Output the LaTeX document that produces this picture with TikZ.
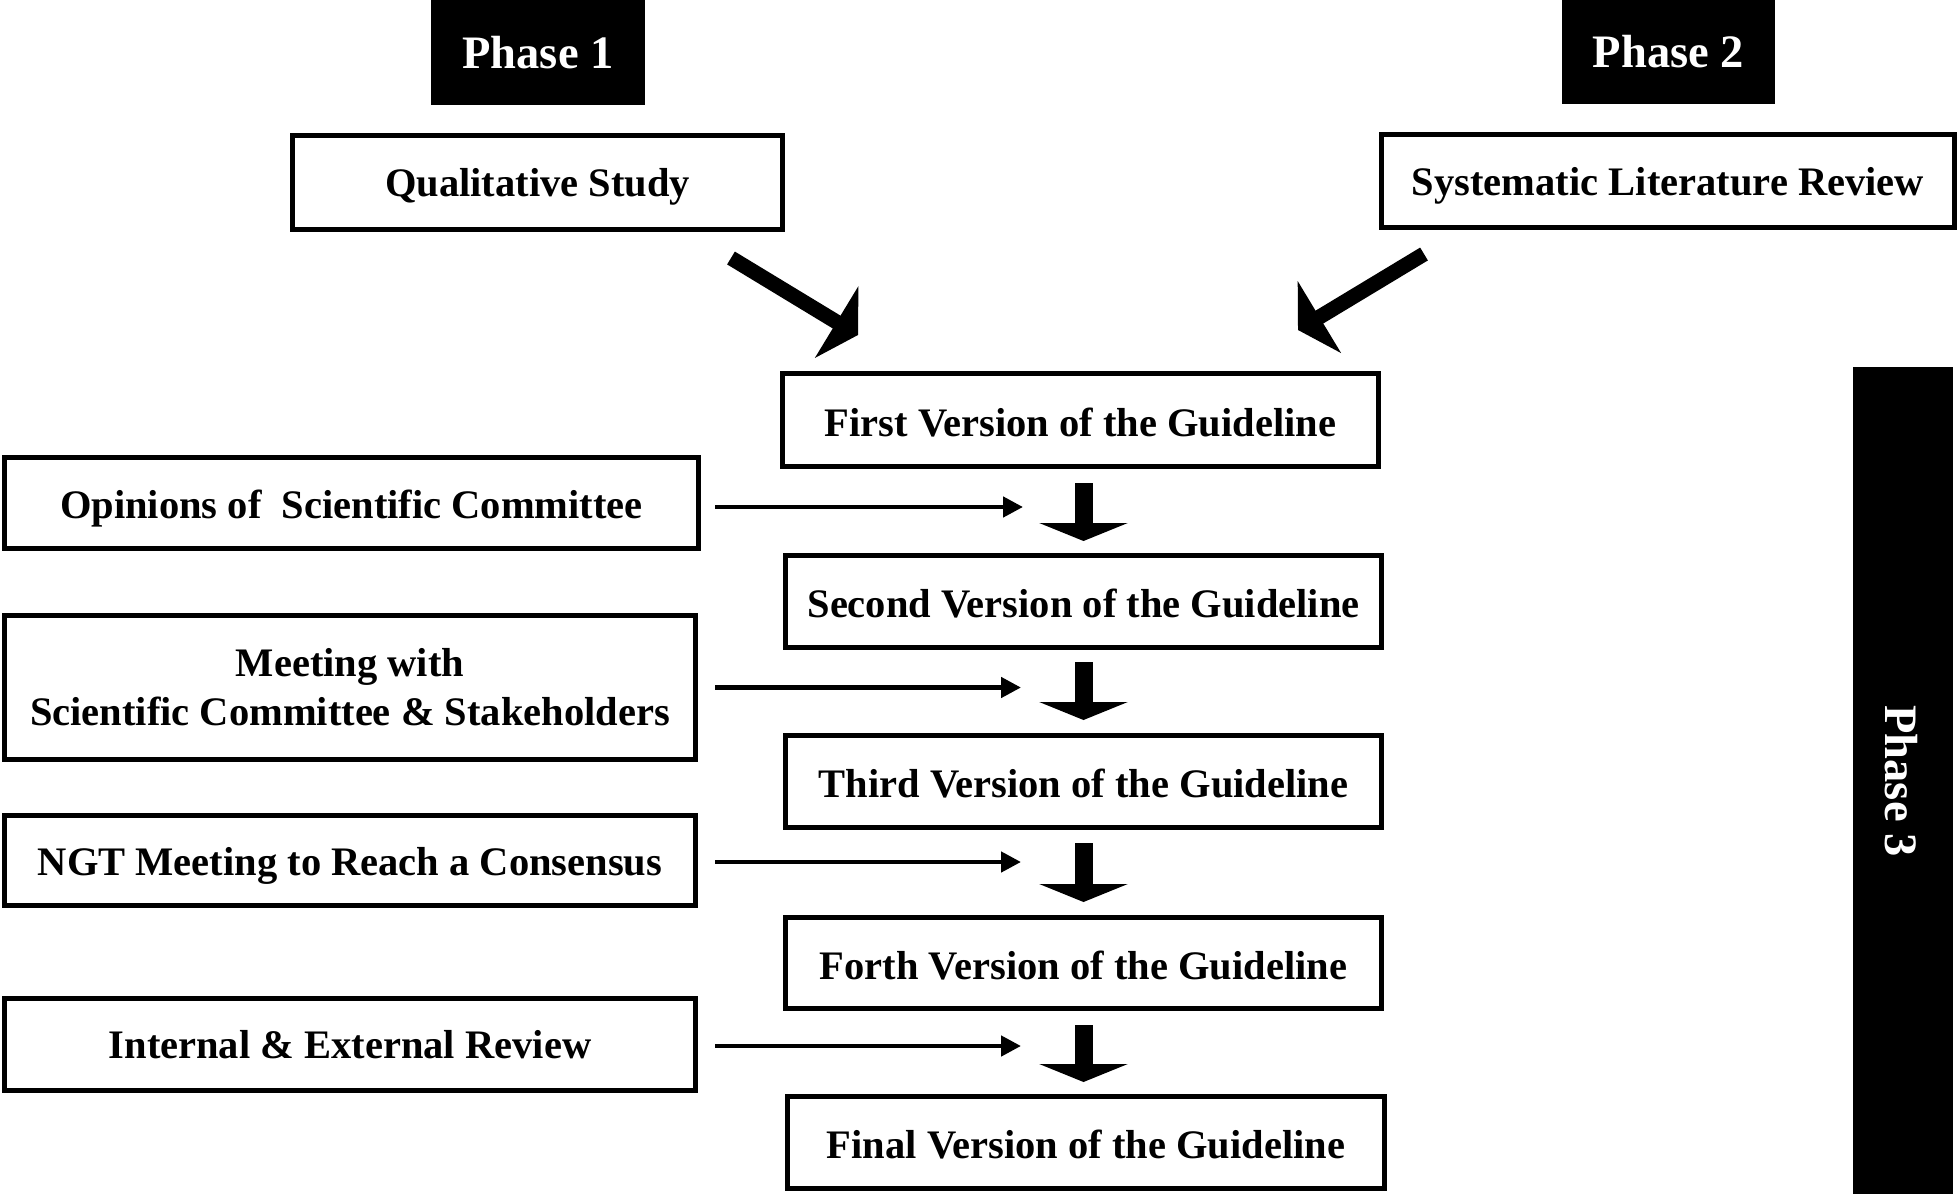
\documentclass[tikz,border=0pt]{standalone}
\usepackage{fontspec}
\setmainfont{Liberation Serif}
\usetikzlibrary{arrows.meta}
\begin{document}
\begin{tikzpicture}[x=0.5pt,y=-0.5pt,
  box/.style={draw, line width=2.5pt, inner sep=0pt, align=center,
    font=\bfseries\fontsize{20.25}{24.4}\selectfont},
  verline/.style={text height=16.9pt, text depth=0.5pt},
  lower/.style={text height=16pt, text depth=1.6pt},
  lowest/.style={text height=17pt, text depth=1.6pt},
  phasebox/.style={fill=black, text=white, inner sep=0pt,
    font=\bfseries\fontsize{23.25}{28}\selectfont},
  thinarrow/.style={line width=2.3pt, -{Triangle[length=10pt,width=10pt]}},
  thickarrow/.style={line width=9pt, -{Triangle[length=9pt,width=44pt]}},
  diagarrow/.style={line width=7.5pt, -{Triangle[length=12.5pt,width=41.5pt]}}
]
\useasboundingbox (0,0) rectangle (1959,1194);

% phase labels
\node[phasebox, minimum width=107pt, minimum height=52.5pt] (p1) at (538,52.5) {Phase 1};
\node[phasebox, minimum width=106.5pt, minimum height=52pt] (p2) at (1668.5,52) {Phase 2};
\node[phasebox, minimum width=50pt, minimum height=413.5pt] (p3) at (1903,780.5) {};
\node[text=white, font=\bfseries\fontsize{23.25}{28}\selectfont, rotate=-90] (p3t) at (1901,781) {Phase 3};

% top boxes
\node[box, lower, minimum width=245pt, minimum height=47pt] (qual) at (537.5,182.5) {Qualitative Study};
\node[box, lower, minimum width=286.5pt, minimum height=46.5pt] (slr) at (1668,181) {Systematic Literature Review};

% version boxes
\node[box, verline, minimum width=298pt, minimum height=46.5pt] (v1) at (1080.5,420) {First Version of the Guideline};
\node[box, verline, minimum width=298pt, minimum height=46pt] (v2) at (1083.5,601.5) {Second Version of the Guideline};
\node[box, verline, minimum width=298pt, minimum height=46pt] (v3) at (1083.5,781.5) {Third Version of the Guideline};
\node[box, verline, minimum width=298pt, minimum height=45.5pt] (v4) at (1083.5,963) {Forth Version of the Guideline};
\node[box, verline, minimum width=298.5pt, minimum height=46pt] (v5) at (1086,1142.5) {Final Version of the Guideline};

% left boxes
\node[box, lowest, minimum width=347pt, minimum height=45.5pt] (op) at (351.5,503) {Opinions of\ \ Scientific Committee};
\node[box, minimum width=345.5pt, minimum height=72pt] (meet) at (350,687.5) {Meeting with\\Scientific Committee \& Stakeholders};
\node[box, text height=16.5pt, text depth=1.6pt, minimum width=345.5pt, minimum height=45pt] (ngt) at (350,860.5) {NGT Meeting to Reach a Consensus};
\node[box, minimum width=345.5pt, minimum height=46pt] (ier) at (350,1044.5) {Internal \& External Review};

% diagonal arrows
\coordinate (la) at (731,258);
\coordinate (lb) at (858,335);
\coordinate (ra) at (1424,254);
\coordinate (rb) at (1298,330);
\draw[diagarrow] (la) -- (lb);
\draw[diagarrow] (ra) -- (rb);

% thick down arrows
\draw[thickarrow] ([yshift=-7pt]v2.north |- v1.south) -- ([yshift=6pt]v2.north);
\draw[thickarrow] ([yshift=-6pt]v2.south) -- ([yshift=6.5pt]v3.north);
\draw[thickarrow] ([yshift=-6.5pt]v3.south) -- ([yshift=6.5pt]v4.north);
\draw[thickarrow] ([yshift=-7pt]v4.south) -- ([yshift=6pt]v4.south |- v5.north);

% thin arrows
\draw[thinarrow] ([xshift=7pt,yshift=-2pt]op.east) -- ++(154pt,0);
\draw[thinarrow] ([xshift=8.5pt]meet.east) -- ++(153pt,0);
\draw[thinarrow] ([xshift=8.5pt,yshift=-0.75pt]ngt.east) -- ++(153pt,0);
\draw[thinarrow] ([xshift=8.5pt,yshift=-0.75pt]ier.east) -- ++(153pt,0);
\end{tikzpicture}
\end{document}
